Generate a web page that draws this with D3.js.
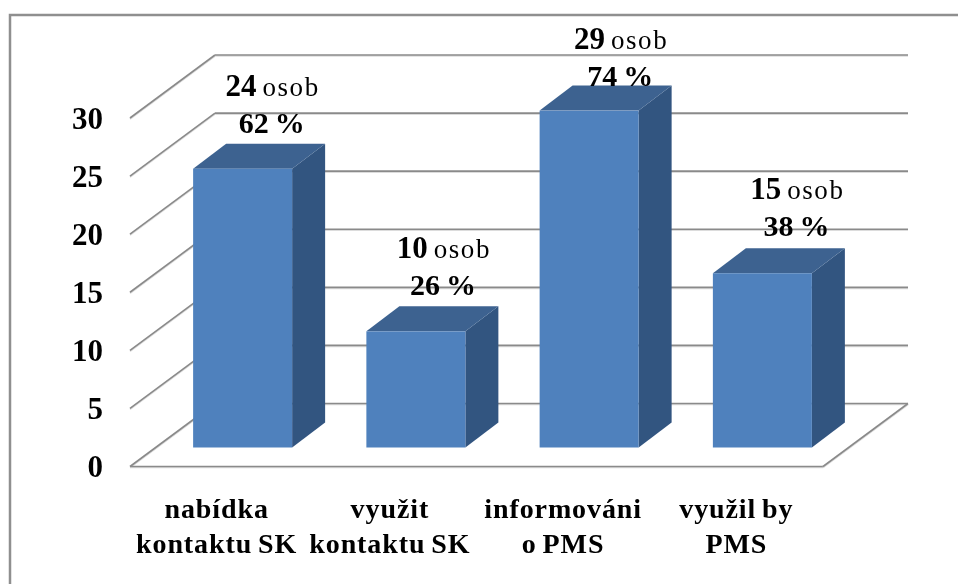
<!DOCTYPE html>
<html><head><meta charset="utf-8">
<script src="https://cdn.jsdelivr.net/npm/d3@7"></script>
<style>
html,body{margin:0;padding:0;background:#fff;overflow:hidden}
text{font-family:"Liberation Serif",serif;fill:#000}
</style></head><body>
<script>
const categories = [["nabídka","kontaktu SK"],["využit","kontaktu SK"],["informováni","o PMS"],["využil by","PMS"]];
const values = [24,10,29,15];
const percents = [62,26,74,38];
const ticks = [0,5,10,15,20,25,30];
const unit = "osob";
const labelShift = [[0,0],[-2,0],[2,11],[5,-1]];

const W=958,H=584;
const svg=d3.select("body").append("svg").attr("width",W).attr("height",H).style("display","block");
const defs=svg.append("defs");
defs.append("filter").attr("id","soft").attr("x","-5%").attr("y","-5%").attr("width","110%").attr("height","110%")
  .append("feGaussianBlur").attr("stdDeviation",0.45);
const root=svg.append("g").attr("filter","url(#soft)");

const left=130,right=823,floorY=466.5,depthX=85,depthY=63,barDX=33,barDY=25;
const x=d3.scaleBand().domain(d3.range(values.length)).range([left,right]).paddingInner(0);
const y=d3.scaleLinear().domain([0,30]).range([0,348.5]);
const barW=99;
const barX=i=>x(i)+x.bandwidth()/2-barW/2+(depthX-barDX)/2;
const barBase=floorY-(depthY-barDY)/2;

root.append("rect").attr("x",10).attr("y",15).attr("width",W).attr("height",H).attr("fill","none").attr("stroke","#8f8f8f").attr("stroke-width",2.5);

const gridCol="#8a8a8a";
function ln(x1,y1,x2,y2,w=1.6){root.append("line").attr("x1",x1).attr("y1",y1+1).attr("x2",x2).attr("y2",y2+1).attr("stroke","#dcdcdc").attr("stroke-width",w);
 root.append("line").attr("x1",x1).attr("y1",y1).attr("x2",x2).attr("y2",y2).attr("stroke",gridCol).attr("stroke-width",w);}
ticks.forEach(t=>{
  const h=y(t);
  ln(left,floorY-h,left+depthX,floorY-depthY-h);
  ln(left+depthX,floorY-depthY-h,right+depthX,floorY-depthY-h);
});
ln(left,floorY,right,floorY);
ln(right,floorY,right+depthX,floorY-depthY);

const bars=root.selectAll("g.bar").data(values).join("g").attr("class","bar");
bars.append("path").attr("fill","#325480").attr("d",(d,i)=>{const a=barX(i)+barW,b=barBase,h=y(d);
  return `M${a},${b}L${a+barDX},${b-barDY}L${a+barDX},${b-barDY-h}L${a},${b-h}Z`;});
bars.append("path").attr("fill","#3c6290").attr("d",(d,i)=>{const a=barX(i),t=barBase-y(d);
  return `M${a},${t}L${a+barDX},${t-barDY}L${a+barW+barDX},${t-barDY}L${a+barW},${t}Z`;});
bars.append("rect").attr("fill","#4f81bd").attr("x",(d,i)=>barX(i)).attr("y",d=>barBase-y(d)).attr("width",barW).attr("height",d=>y(d));

root.selectAll("text.tick").data(ticks).join("text").attr("class","tick")
  .attr("x",103).attr("y",t=>floorY-y(t)+10.5).attr("text-anchor","end")
  .attr("font-weight","bold").attr("font-size",31).text(t=>t);

categories.forEach((lines,i)=>{
  const cx=x(i)+x.bandwidth()/2;
  lines.forEach((s,j)=>{
    root.append("text").attr("x",cx).attr("y",518+j*34.5).attr("text-anchor","middle")
      .attr("font-weight","bold").attr("font-size",28).attr("letter-spacing",0.9).attr("word-spacing",-2).text(s);
  });
});

values.forEach((v,i)=>{
  const cx=barX(i)+barW/2+30+labelShift[i][0];
  const top=barBase-y(v)-barDY;
  const b2=top-11+labelShift[i][1];
  const t1=root.append("text").attr("x",cx).attr("y",b2-37).attr("text-anchor","middle");
  t1.append("tspan").attr("font-weight","bold").attr("font-size",31).text(v);
  t1.append("tspan").attr("font-size",27).attr("letter-spacing",1.6).attr("dx",6).text(unit);
  root.append("text").attr("x",cx-1).attr("y",b2).attr("text-anchor","middle")
    .attr("font-weight","bold").attr("font-size",30).attr("word-spacing",-1.5).text(percents[i]+" %");
});
</script>
</body></html>
